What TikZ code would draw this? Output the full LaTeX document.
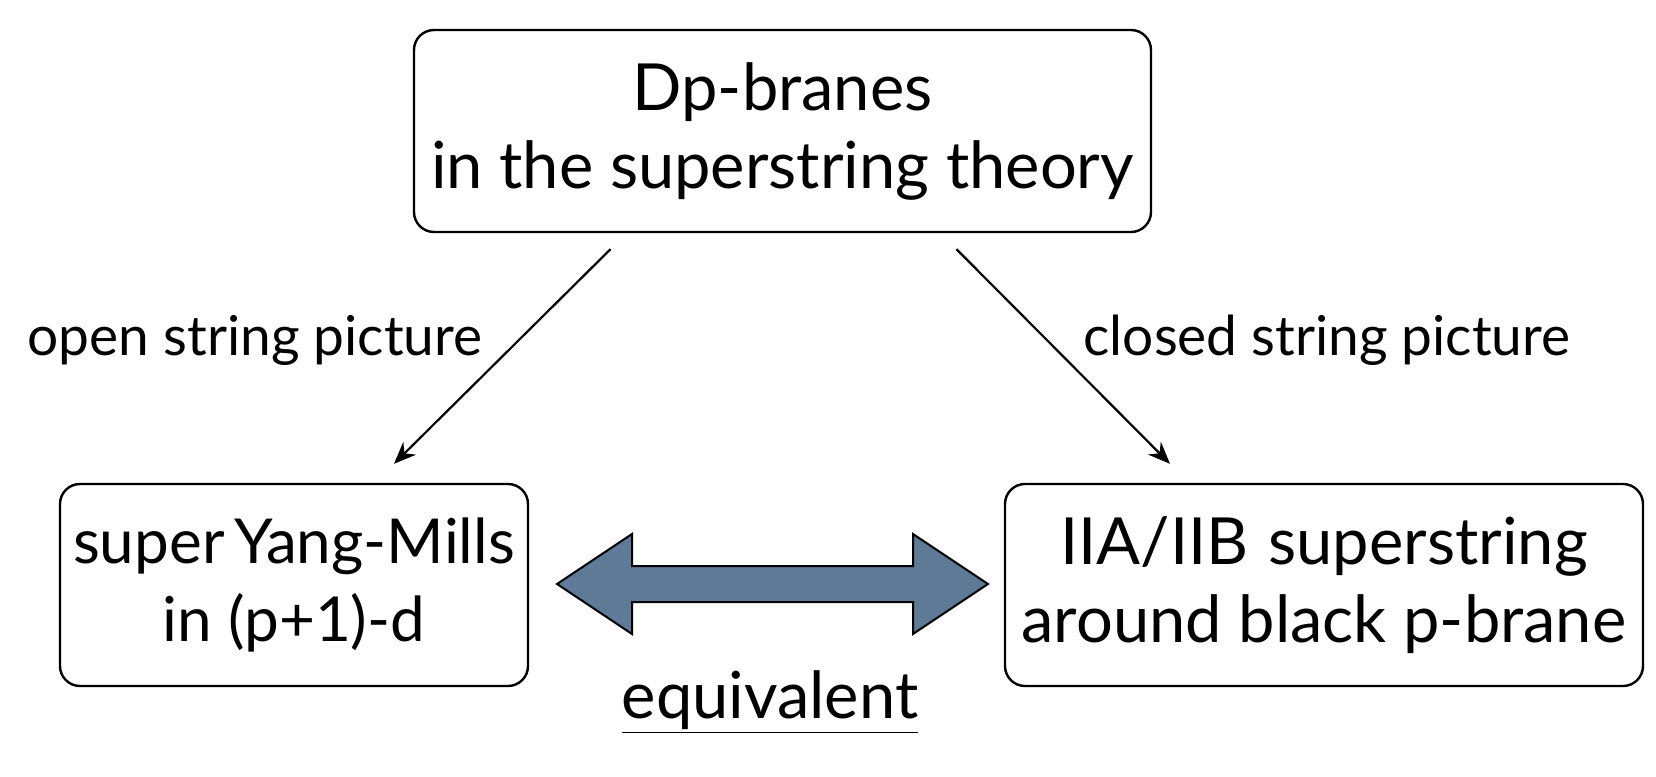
\documentclass[tikz,border=0pt]{standalone}
\usepackage{fontspec}
\setmainfont{Lato}
\usetikzlibrary{arrows.meta}
\definecolor{slate}{RGB}{95,122,150}
\begin{document}
\begin{tikzpicture}[x=0.5pt,y=-0.5pt,
  box/.style={draw, line width=1.2pt, rounded corners=10pt, align=center,
    font=\fontsize{32.5}{39}\selectfont, inner sep=0pt},
  lbl/.style={font=\fontsize{27.5}{32}\selectfont, inner sep=0pt},
  conn/.style={-{Stealth[length=11pt,width=9pt]}, line width=1.1pt},
  bigarrow/.style={draw, line width=1pt, fill=slate, line join=miter}]
\useasboundingbox (0,0) rectangle (1656,777);
\node[box, minimum width=368.5pt, minimum height=101pt] (top) at (782.5,131)
  {Dp-branes\\in the superstring theory};
\node[box, minimum width=234pt, minimum height=101pt, font=\fontsize{31}{39}\selectfont] (left) at (294,585)
  {\raisebox{-4pt}{super\hspace{-0.1em} Yang-Mills}\\\raisebox{-4pt}{in (p+1)-d}};
\node[box, minimum width=319pt, minimum height=101pt] (right) at (1324,585)
  {\raisebox{-3pt}{IIA/IIB\hspace{0.05em} superstring}\\\raisebox{-3pt}{around black p-brane}};
\node[lbl] (ol) at (255,340) {open string picture};
\node[lbl] (cl) at (1327,340) {closed string picture};
\node[font=\fontsize{32.5}{39}\selectfont, inner sep=0pt] (eq) at (770,702) {\underline{equivalent}};
\draw[conn] ([xshift=-86pt,yshift=-8pt]top.south) -- ([xshift=50pt,yshift=9.5pt]left.north);
\draw[conn] ([xshift=87pt,yshift=-8pt]top.south) -- ([xshift=-77pt,yshift=9.5pt]right.north);
\draw[bigarrow] (557,584) -- (632,534) -- (632,566) -- (913,566) -- (913,534)
  -- (988,584) -- (913,634) -- (913,602) -- (632,602) -- (632,634) -- cycle;
\end{tikzpicture}
\end{document}
